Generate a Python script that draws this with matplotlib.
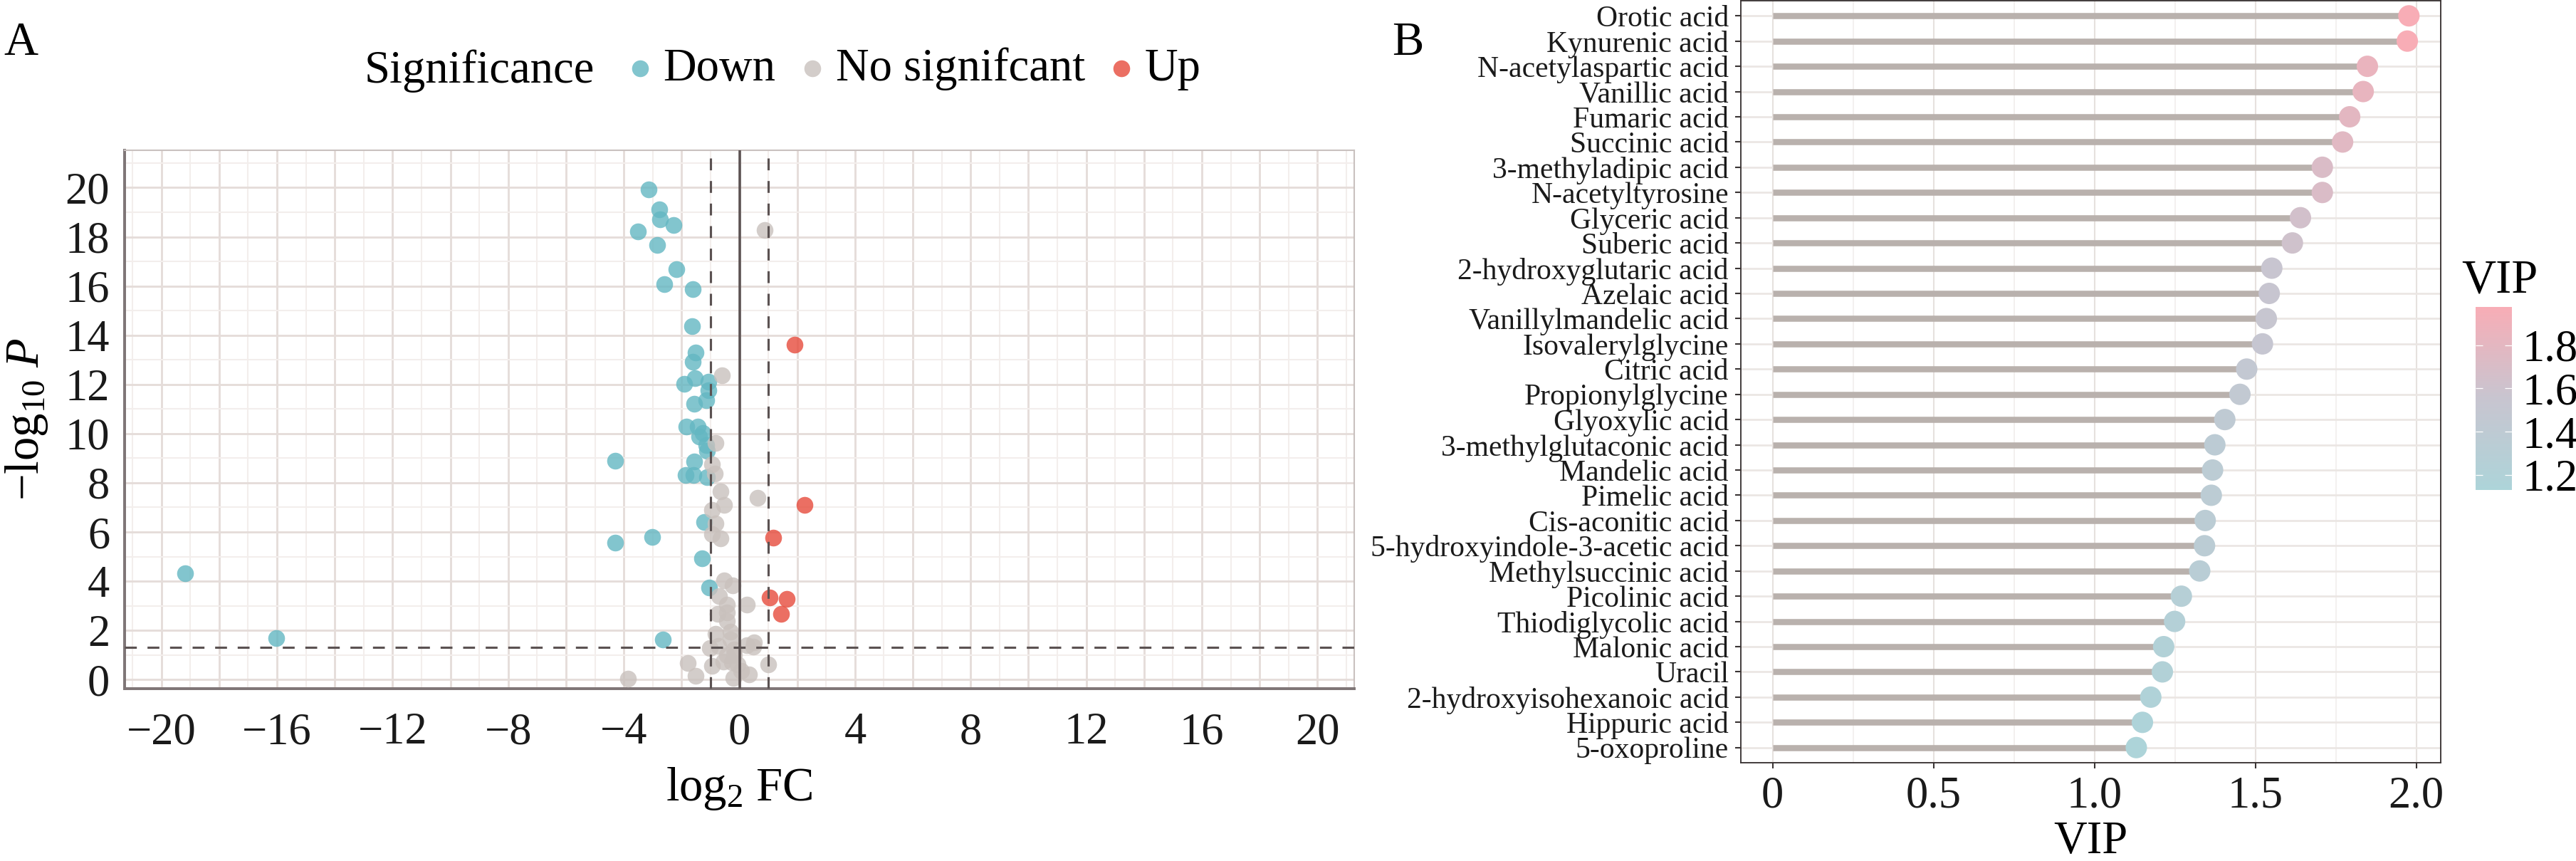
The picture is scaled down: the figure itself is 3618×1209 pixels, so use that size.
import numpy as np
import matplotlib
matplotlib.use('Agg')
import matplotlib.pyplot as plt
from matplotlib.ticker import MultipleLocator, FuncFormatter
from matplotlib.colors import LinearSegmentedColormap

plt.rcParams['font.family'] = ['Liberation Serif', 'DejaVu Serif']
plt.rcParams['mathtext.fontset'] = 'custom'
plt.rcParams['mathtext.rm'] = 'Liberation Serif'
plt.rcParams['mathtext.it'] = 'Liberation Serif:italic'
plt.rcParams['lines.scale_dashes'] = False

# ---- panel A: volcano data (log2 FC, -log10 P) ----
down_fc = [-3.13, -2.77, -2.74, -2.28, -3.52, -2.85, -2.19, -2.59, -1.62, -1.64,
           -1.52, -1.61, -1.54, -1.92, -1.08, -1.06, -1.15, -1.56, -1.84, -1.45,
           -1.27, -1.39, -1.15, -1.12, -4.29, -1.56, -1.86, -1.58, -1.12,
           -1.22, -3.02, -4.29, -1.30, -1.04, -2.64, -19.18, -16.03]
down_p = [19.92, 19.13, 18.72, 18.49, 18.21, 17.66, 16.69, 16.08, 15.87, 14.38,
          13.30, 12.91, 12.24, 12.02, 12.12, 11.76, 11.37, 11.22, 10.28, 10.28,
          10.02, 9.87, 9.54, 9.30, 8.91, 8.86, 8.31, 8.31, 8.24,
          6.40, 5.79, 5.56, 4.94, 3.73, 1.63, 4.31, 1.68]

ns_fc = [0.88, -0.60, -0.82, -0.96, -0.85, -0.65, 0.64, -0.54, -0.96, -0.82,
         -0.96, -0.66, -0.54, -0.24, -0.71, -0.42, 0.25, -0.75, -0.42, -0.44,
         -0.82, -0.30, -0.32, -0.73, -1.01, -0.18, 0.25, 0.50, 0.48, -0.18,
         -0.56, -0.25, -0.07, 0.06, -0.96, 1.00, 0.33, -0.21, -0.42, -3.86,
         -1.78, -1.51]
ns_p = [18.28, 12.38, 9.63, 8.74, 8.38, 7.66, 7.38, 7.09, 6.91, 6.34,
        5.90, 5.73, 4.02, 3.83, 3.39, 3.06, 3.06, 2.67, 2.72, 2.38,
        1.85, 1.95, 1.63, 1.37, 1.27, 1.22, 1.39, 1.51, 1.35, 0.98,
        0.74, 0.69, 0.60, 0.36, 0.55, 0.62, 0.21, 0.05, 0.98, 0.04,
        0.68, 0.14]

up_fc = [1.92, 2.25, 1.16, 1.05, 1.63, 1.44]
up_p = [13.62, 7.09, 5.78, 3.33, 3.28, 2.67]

groups = ['Down', 'No signifcant', 'Up']
group_colors = ['#63B7C2', '#C9C1BD', '#E64B3C']

# ---- panel B: VIP lollipop ----
metabolites = ['Orotic acid', 'Kynurenic acid', 'N-acetylaspartic acid', 'Vanillic acid',
               'Fumaric acid', 'Succinic acid', '3-methyladipic acid', 'N-acetyltyrosine',
               'Glyceric acid', 'Suberic acid', '2-hydroxyglutaric acid', 'Azelaic acid',
               'Vanillylmandelic acid', 'Isovalerylglycine', 'Citric acid', 'Propionylglycine',
               'Glyoxylic acid', '3-methylglutaconic acid', 'Mandelic acid', 'Pimelic acid',
               'Cis-aconitic acid', '5-hydroxyindole-3-acetic acid', 'Methylsuccinic acid',
               'Picolinic acid', 'Thiodiglycolic acid', 'Malonic acid', 'Uracil',
               '2-hydroxyisohexanoic acid', 'Hippuric acid', '5-oxoproline']
vip = [1.977, 1.972, 1.848, 1.835, 1.793, 1.771, 1.708, 1.708, 1.640, 1.615,
       1.551, 1.543, 1.534, 1.522, 1.473, 1.452, 1.405, 1.374, 1.367, 1.363,
       1.344, 1.342, 1.327, 1.270, 1.249, 1.215, 1.211, 1.175, 1.149, 1.130]

W, H = 3618, 1209
fig = plt.figure(figsize=(W / 300, H / 300), dpi=300)

# ================= A =================
axA = fig.add_axes([175 / W, 1 - 967 / H, (1902 - 175) / W, (967 - 211) / H])
axA.set_axisbelow(True)
axA.xaxis.set_major_locator(MultipleLocator(2))
axA.xaxis.set_minor_locator(MultipleLocator(1))
axA.yaxis.set_major_locator(MultipleLocator(2))
axA.yaxis.set_minor_locator(MultipleLocator(1))
axA.xaxis.set_major_formatter(FuncFormatter(
    lambda v, p: ('%d' % v).replace('-', '\u2212') if round(v) % 4 == 0 else ''))
axA.grid(which='major', color='#E5DDDA', lw=0.7)
axA.grid(which='minor', color='#F3EEEC', lw=0.5)

for g, c, xs, ys in zip(groups, group_colors, [down_fc, ns_fc, up_fc], [down_p, ns_p, up_p]):
    axA.scatter(xs, ys, s=32, color=c, alpha=0.8, lw=0, label=g, zorder=3)

line_col = '#5B5252'
axA.axvline(0, color=line_col, lw=0.85, zorder=4)
for v in (-1, 1):
    axA.axvline(v, color=line_col, lw=0.75, dashes=(4, 3.6), zorder=4)
axA.axhline(-np.log10(0.05), color=line_col, lw=0.75, dashes=(4, 3.6), zorder=4)

axA.set_xlim(-21.27, 21.27)
axA.set_ylim(-0.37, 21.52)
axA.tick_params(which='both', length=0, labelsize=15, colors='#1A1A1A')
axA.tick_params(axis='x', pad=8)
axA.tick_params(axis='y', pad=5)
for s in ('left', 'bottom'):
    axA.spines[s].set_color('#7F7677')
    axA.spines[s].set_linewidth(0.95)
for s in ('top', 'right'):
    axA.spines[s].set_color('#C9C1BF')
    axA.spines[s].set_linewidth(0.5)

axA.set_xlabel(r'$\log_2\,\mathrm{FC}$', fontsize=16)
axA.xaxis.set_label_coords(0.5, -0.143)
axA.set_ylabel(r'$-\log_{10}\,P$', fontsize=16)
axA.yaxis.set_label_coords(-0.061, 0.5)

# legend along the top
fig.text(512 / W, 1 - 116 / H, 'Significance', fontsize=15.5, va='baseline')
fig.legend(*axA.get_legend_handles_labels(), loc='center left',
           bbox_to_anchor=(867 / W, 1 - 97 / H), ncol=3, frameon=False,
           fontsize=15.5, handlelength=1.0, handletextpad=0.0, columnspacing=0.3,
           borderpad=0, borderaxespad=0, scatterpoints=1)
fig.text(5 / W, 1 - 77 / H, 'A', fontsize=16, va='baseline')

# ================= B =================
axB = fig.add_axes([2445 / W, 1 - 1071 / H, (3428 - 2445) / W, (1071 - 1) / H])
axB.set_axisbelow(True)
ypos = np.arange(len(metabolites))[::-1]
cmap = LinearSegmentedColormap.from_list('vip', ['#ADD4D9', '#C8C5D0', '#F8ADB6'])
axB.hlines(ypos, 0, vip, color='#B9B1AD', lw=2.06, zorder=2, capstyle='butt')
sc = axB.scatter(vip, ypos, c=vip, cmap=cmap, s=52, lw=0, zorder=3,
                 vmin=min(vip), vmax=max(vip))
axB.set_yticks(ypos, metabolites)
axB.set_xticks([0, 0.5, 1.0, 1.5, 2.0], ['0', '0.5', '1.0', '1.5', '2.0'])
axB.xaxis.set_minor_locator(MultipleLocator(0.25))
axB.grid(axis='y', which='major', color='#EBE6E3', lw=0.65)
axB.grid(axis='x', which='major', color='#E6E1DE', lw=0.5)
axB.grid(axis='x', which='minor', color='#F1EEEC', lw=0.4)
axB.set_xlim(-0.05 * max(vip), 1.05 * max(vip))
axB.set_ylim(-0.6, len(metabolites) - 0.4)
axB.tick_params(which='major', length=1.9, width=0.5, color='#3A3434', colors='#1A1A1A')
axB.tick_params(which='minor', length=0)
axB.tick_params(axis='y', labelsize=10, pad=2.2)
axB.tick_params(axis='x', labelsize=15, pad=2.6)
for s in axB.spines.values():
    s.set_color('#3A3434')
    s.set_linewidth(0.45)
axB.set_xlabel('VIP', fontsize=15.5)
axB.xaxis.set_label_coords(0.5, -0.076)
fig.text(1955 / W, 1 - 77 / H, 'B', fontsize=16, va='baseline')

cax = fig.add_axes([3477 / W, 1 - 688 / H, 51 / W, 257 / H])
cb = fig.colorbar(sc, cax=cax, ticks=[1.2, 1.4, 1.6, 1.8])
cb.outline.set_visible(False)
cax.tick_params(direction='in', color='white', length=2.4, width=0.3,
                left=True, right=True, labelsize=15, pad=3.5)
fig.text(3457 / W, 1 - 410 / H, 'VIP', fontsize=16, va='baseline')

fig.savefig('out.png', dpi=300)
